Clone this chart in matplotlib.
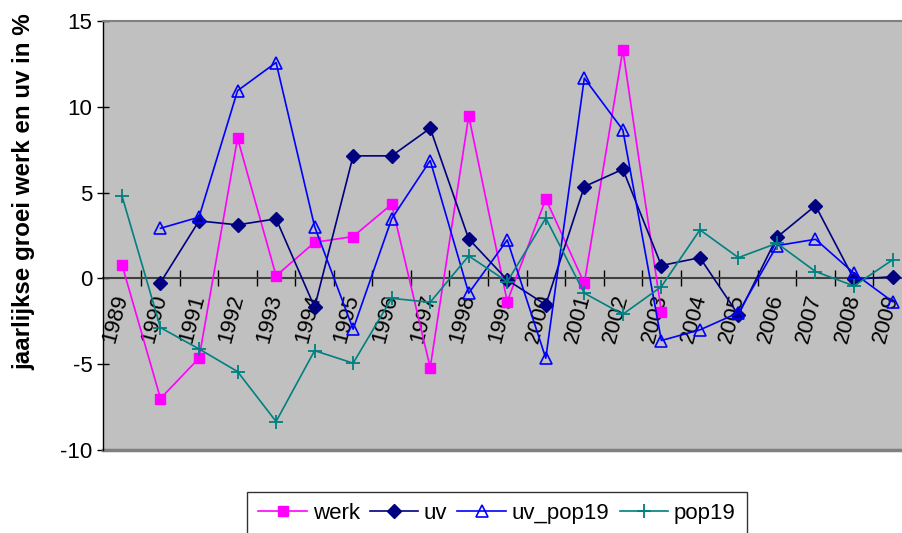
import matplotlib
matplotlib.use("Agg")
import matplotlib.pyplot as plt
import numpy as np

plt.rcParams['font.family'] = ['Liberation Sans', 'DejaVu Sans']

years = [str(y) for y in range(1989, 2010)]
nan = np.nan
werk = [0.8, -7.0, -4.65, 8.17, 0.15, 2.1, 2.44, 4.32, -5.2, 9.47, -1.35, 4.63, -0.28, 13.32, -1.93,
        nan, nan, nan, nan, nan, nan]
uv = [nan, -0.24, 3.35, 3.12, 3.47, -1.68, 7.14, 7.14, 8.75, 2.3, -0.09, -1.54, 5.35, 6.36, 0.75,
      1.21, -2.13, 2.4, 4.24, -0.05, 0.1]
uv_pop19 = [nan, 2.92, 3.57, 10.94, 12.58, 3.02, -2.96, 3.47, 6.87, -0.86, 2.24, -4.65, 11.67, 8.65,
            -3.62, -3.0, -2.0, 1.91, 2.28, 0.3, -1.35]
pop19 = [4.81, -2.87, -4.11, -5.43, -8.34, -4.21, -4.94, -1.16, -1.39, 1.31, -0.19, 3.51, -0.86,
         -2.09, -0.48, 2.83, 1.21, 2.05, 0.4, -0.44, 1.08]

W, H = 903, 533
fig = plt.figure(figsize=(W / 100, H / 100), dpi=100)
ax = fig.add_axes([102.7 / W, 1 - 450 / H, (911.8 - 102.7) / W, (450 - 21) / H])
ax.set_facecolor('#C0C0C0')

x = np.arange(len(years))
lw = 1.2
ax.plot(x, werk, color='#FF00FF', lw=lw, marker='s', ms=7.5, mfc='#FF00FF', mec='#FF00FF',
        label='werk', zorder=3)
ax.plot(x, uv, color='#000080', lw=lw, marker='D', ms=7, mfc='#000080', mec='#000080',
        label='uv', zorder=4)
ax.plot(x, uv_pop19, color='#0000FF', lw=lw, marker='^', ms=9, mfc='none', mec='#0000FF',
        mew=1.2, label='uv_pop19', zorder=5)
ax.plot(x, pop19, color='#008080', lw=lw, marker='+', ms=10, mec='#008080', mew=1.3,
        label='pop19', zorder=6)

ax.set_xlim(-0.5, len(years) - 0.5)
ax.set_ylim(-10, 15)
ax.set_yticks([-10, -5, 0, 5, 10, 15])
ax.set_yticklabels(['-10', '-5', '0', '5', '10', '15'])
ax.tick_params(axis='y', direction='inout', length=9, width=1, labelsize=16, pad=3)

# x axis at zero
ax.spines['bottom'].set_position(('data', 0))
ax.spines['bottom'].set_color('#404040')
ax.spines['bottom'].set_linewidth(1.5)
ax.spines['bottom'].set_zorder(2)
ax.spines['top'].set_color('#808080')
ax.spines['top'].set_linewidth(1.5)
ax.spines['right'].set_visible(False)
ax.spines['left'].set_color('black')
ax.spines['left'].set_linewidth(1.0)
ax.axhline(-10, color='#808080', lw=2.5, zorder=2, clip_on=False)

ax.set_xticks(np.arange(0.5, len(years) - 1, 1.0))
ax.set_xticklabels([])
ax.tick_params(axis='x', which='major', direction='inout', length=11, width=1, color='black')
ax.set_xticks(x, minor=True)
ax.set_xticklabels(years, minor=True, rotation=75, ha='right', va='center',
                   rotation_mode='anchor', fontsize=16)
ax.tick_params(axis='x', which='minor', length=0, pad=12)

ax.set_ylabel('jaarlijkse groei werk en uv in %', fontsize=17.4, fontweight='bold')
ax.yaxis.set_label_coords(35 / W, 1 - 192 / H, transform=fig.transFigure)

leg = fig.legend(loc='upper left', bbox_to_anchor=(247 / W, 1 - 492 / H), ncol=4,
                 fontsize=16, frameon=True, fancybox=False, edgecolor='black',
                 handlelength=2.2, handletextpad=0.25, columnspacing=0.45,
                 borderpad=0.5, borderaxespad=0)
leg.get_frame().set_linewidth(1.0)

fig.savefig('out.png', dpi=100)
